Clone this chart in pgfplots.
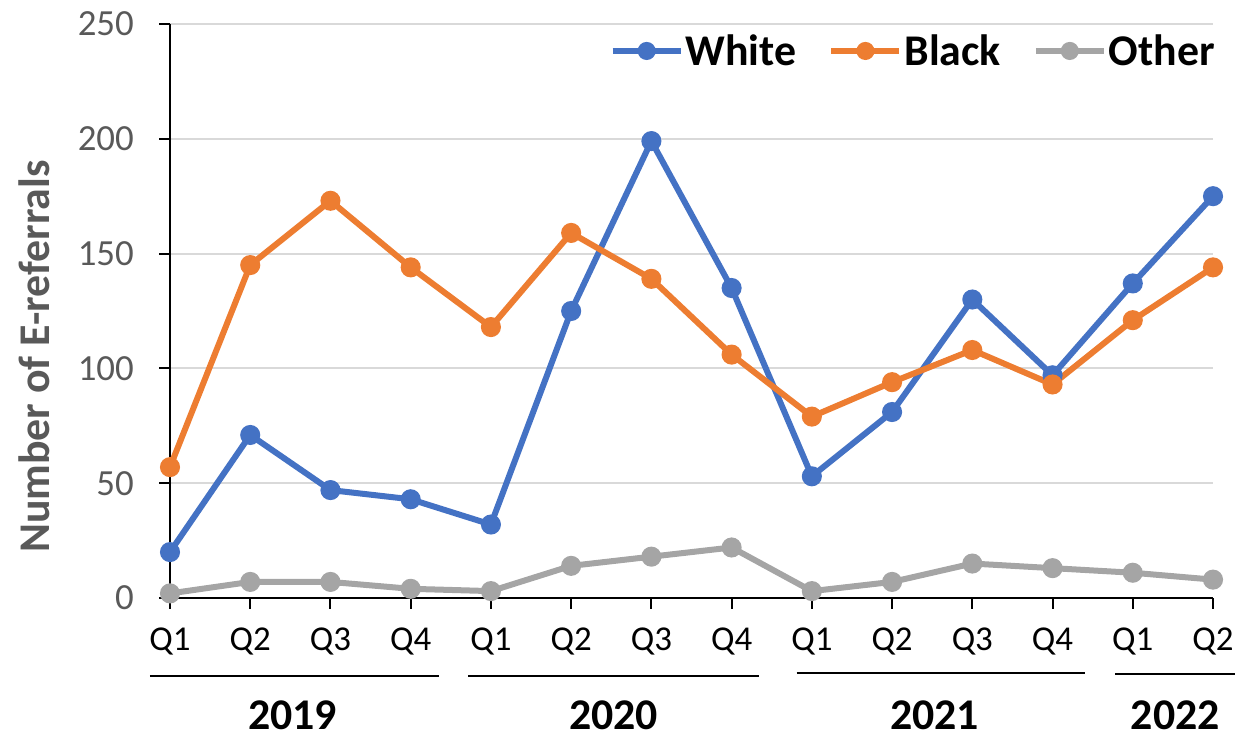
\documentclass[border=0pt]{standalone}
\usepackage{pgfplots}
\pgfplotsset{compat=1.18}
\usepackage{fontspec}
\setmainfont{Carlito}
\definecolor{cwhite}{HTML}{4472C4}
\definecolor{cblack}{HTML}{ED7D31}
\definecolor{cother}{HTML}{A5A5A5}
\definecolor{tickgray}{HTML}{595959}
\definecolor{gridgray}{HTML}{D9D9D9}
\begin{document}
\begin{tikzpicture}[x=1bp,y=1bp]
\useasboundingbox (0,0) rectangle (1237,739);
\begin{axis}[
  at={(170bp,141bp)}, anchor=south west,
  scale only axis, width=1043bp, height=574bp,
  xmin=0, xmax=13, ymin=0, ymax=250,
  axis x line*=bottom, axis y line*=left,
  axis line style={line width=2.5bp, black, -},
  xtick={0,...,13},
  xticklabels={Q1,Q2,Q3,Q4,Q1,Q2,Q3,Q4,Q1,Q2,Q3,Q4,Q1,Q2},
  ytick={0,50,...,250},
  tick align=outside, major tick length=11bp,
  tick style={line width=2bp, black},
  ymajorgrids, grid style={line width=2bp, gridgray},
  /pgf/number format/assume math mode=true,
  yticklabel style={font=\fontsize{37}{40}\selectfont, text=tickgray, anchor=east, inner sep=0pt, xshift=-25bp},
  xticklabel style={font=\fontsize{35}{38}\selectfont, text=black, anchor=base, inner sep=0pt, yshift=-42bp},
  clip=false,
  every axis plot/.append style={line width=6bp, mark=*, mark size=7bp},
  legend columns=3,
  legend style={at={(rel axis cs:1,0.953)}, anchor=east, xshift=7bp, draw=none, fill=none,
    font=\bfseries\fontsize{44}{46}\selectfont, text=black,
    nodes={inner sep=2bp},
    /tikz/every odd column/.append style={column sep=0bp},
    /tikz/every even column/.append style={column sep=30bp}},
  legend image code/.code={\draw[mark repeat=2,mark phase=2, mark size=6bp] plot coordinates {(0bp,0bp) (34bp,0bp) (68bp,0bp)};},
]
\addplot[color=cwhite, mark options={fill=cwhite, draw=cwhite}] coordinates {
(0,20) (1,71) (2,47) (3,43) (4,32) (5,125) (6,199) (7,135) (8,53) (9,81) (10,130) (11,97) (12,137) (13,175)};
\addlegendentry{White}
\addplot[color=cblack, mark options={fill=cblack, draw=cblack}] coordinates {
(0,57) (1,145) (2,173) (3,144) (4,118) (5,159) (6,139) (7,106) (8,79) (9,94) (10,108) (11,93) (12,121) (13,144)};
\addlegendentry{Black}
\addplot[color=cother, mark options={fill=cother, draw=cother}] coordinates {
(0,2) (1,7) (2,7) (3,4) (4,3) (5,14) (6,18) (7,22) (8,3) (9,7) (10,15) (11,13) (12,11) (13,8)};
\addlegendentry{Other}
\draw[line width=2.5bp] ([yshift=-78bp]axis cs:-0.25,0) -- ([yshift=-78bp]axis cs:3.35,0);
\draw[line width=2.5bp] ([yshift=-78bp]axis cs:3.72,0) -- ([yshift=-78bp]axis cs:7.34,0);
\draw[line width=2.5bp] ([yshift=-75bp]axis cs:7.81,0) -- ([yshift=-75bp]axis cs:11.41,0);
\draw[line width=2.5bp] ([yshift=-76bp]axis cs:11.78,0) -- ([yshift=-76bp]axis cs:13.28,0);
\node[font=\bfseries\fontsize{44}{46}\selectfont, anchor=base, inner sep=0pt] at ([yshift=-132bp]axis cs:1.53,0) {2019};
\node[font=\bfseries\fontsize{44}{46}\selectfont, anchor=base, inner sep=0pt] at ([yshift=-132bp]axis cs:5.53,0) {2020};
\node[font=\bfseries\fontsize{44}{46}\selectfont, anchor=base, inner sep=0pt] at ([yshift=-132bp]axis cs:9.53,0) {2021};
\node[font=\bfseries\fontsize{44}{46}\selectfont, anchor=base, inner sep=0pt] at ([yshift=-132bp]axis cs:12.53,0) {2022};
\end{axis}
\node[rotate=90, inner sep=0pt, font=\bfseries\fontsize{44}{46}\selectfont, text=tickgray] at (34,382.5) {Number of E-referrals};
\end{tikzpicture}
\end{document}
